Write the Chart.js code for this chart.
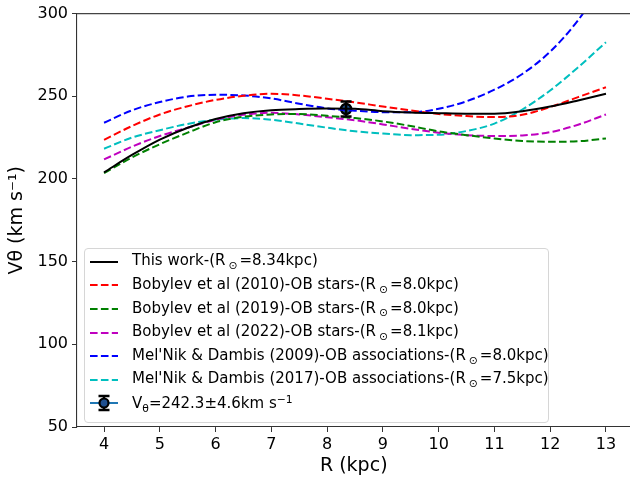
<!DOCTYPE html>
<html>
<head>
<meta charset="utf-8">
<script src="https://cdn.jsdelivr.net/npm/chart.js@4.4.0/dist/chart.umd.min.js"></script>
<style>
  body { margin: 0; background: #fff; }
  #wrap { position: relative; width: 630px; height: 477px; overflow: hidden; }
  #legend {
    position: absolute; left: 84px; top: 248px; width: 465px; height: 175px;
    box-sizing: border-box; border: 1px solid #d6d6d6; border-radius: 4px;
    background: rgba(255,255,255,0.85);
    font-family: "DejaVu Sans", sans-serif; font-size: 15px; color: #000;
    padding-top: 1px;
  }
  #legend .row { display: flex; align-items: center; height: 23.6px; white-space: nowrap; }
  #legend svg { margin-left: 5px; margin-right: 14px; flex: none; }
  #legend sub { font-size: 0.72em; vertical-align: -0.35em; margin: 0 2px 0 3px; }
  #legend sub.tight { margin: 0; }
  #legend sup { font-size: 0.72em; vertical-align: 0.45em; }
</style>
</head>
<body>
<div id="wrap">
  <canvas id="chart" width="638" height="477"></canvas>
  <div id="legend"></div>
</div>
<script>
// radius grid (kpc)
const rGrid = [4, 4.5, 5, 5.5, 6, 6.5, 7, 7.5, 8, 8.5, 9, 9.5, 10, 10.5, 11, 11.5, 12, 12.5, 13];

// rotation curves (km/s)
const thisWork   = [204, 214.5, 223.8, 231, 236.3, 239.8, 241.6, 242.3, 242.6, 242.4, 241, 240.2, 239.8, 239.5, 239.5, 241, 243.8, 247.5, 251.5];
const bob2010    = [223.7, 232, 239, 244, 247.8, 250.3, 251.5, 250.5, 248.5, 246.3, 243.8, 241.5, 239.3, 238, 237.4, 238.8, 243.5, 249.5, 255.5];
const bob2019    = [203.5, 213, 221, 228, 234.3, 237.6, 239, 239.3, 238.2, 236.8, 234.8, 232, 228.8, 226.5, 224.5, 223, 222.5, 222.8, 224.5];
const bob2022    = [211.8, 219.5, 226, 231, 235.8, 238.8, 240, 239, 237.3, 235.5, 233, 230.3, 228, 226.5, 226, 226.3, 228.3, 232.8, 239];
const mel2009    = [234, 241.5, 246.5, 249.8, 250.9, 250.5, 248.7, 245.5, 242.7, 241.3, 240.4, 240.3, 242.4, 247, 254, 263.5, 277, 296, 321];
const mel2017    = [218.3, 225, 229.5, 233.3, 235.8, 236.8, 235.8, 233.5, 231, 228.8, 227.5, 226.5, 226.7, 229, 233.5, 242, 253.5, 267.5, 282.7];

// measured point at the Sun
const sunR = 8.34;
const sunV = 242.3;
const sunErr = 4.6;

const xTicks = [4, 5, 6, 7, 8, 9, 10, 11, 12, 13];
const yTicks = [50, 100, 150, 200, 250, 300];

const DASH = [7.6, 3.3];
const curves = [
    { label: 'This work-(R<sub>⊙</sub>=8.34kpc)', data: thisWork, color: '#000000', dash: [] },
    { label: 'Bobylev et al (2010)-OB stars-(R<sub>⊙</sub>=8.0kpc)', data: bob2010, color: '#ff0000', dash: DASH },
    { label: 'Bobylev et al (2019)-OB stars-(R<sub>⊙</sub>=8.0kpc)', data: bob2019, color: '#008000', dash: DASH },
    { label: 'Bobylev et al (2022)-OB stars-(R<sub>⊙</sub>=8.1kpc)', data: bob2022, color: '#bf00bf', dash: DASH },
    { label: "Mel'Nik &amp; Dambis (2009)-OB associations-(R<sub>⊙</sub>=8.0kpc)", data: mel2009, color: '#0000ff', dash: DASH },
    { label: "Mel'Nik &amp; Dambis (2017)-OB associations-(R<sub>⊙</sub>=7.5kpc)", data: mel2017, color: '#00bfbf', dash: DASH }
];

const TICK_FONT = { family: 'DejaVu Sans', size: 16 };
const TITLE_FONT = { family: 'DejaVu Sans', size: 19 };

const datasets = curves.map(c => ({
    type: 'line',
    label: c.label,
    data: rGrid.map((r, i) => ({ x: r, y: c.data[i] })),
    borderColor: c.color,
    borderWidth: 2,
    borderDash: c.dash,
    pointRadius: 0,
    cubicInterpolationMode: 'monotone',
    fill: false
}));

datasets.push({
    type: 'scatter',
    label: 'sun',
    data: [{ x: sunR, y: sunV }],
    pointRadius: 5,
    pointBorderWidth: 2.5,
    pointBackgroundColor: '#1f4f8f',
    pointBorderColor: '#000000'
});

// error bar + top spine
const extras = {
    id: 'extras',
    afterDatasetsDraw(chart) {
        const ctx = chart.ctx;
        const xs = chart.scales.x, ys = chart.scales.y;
        const px = xs.getPixelForValue(sunR);
        const yTop = ys.getPixelForValue(sunV + sunErr);
        const yBot = ys.getPixelForValue(sunV - sunErr);
        ctx.save();
        ctx.strokeStyle = '#000';
        ctx.lineWidth = 2.5;
        ctx.beginPath();
        ctx.moveTo(px, yTop); ctx.lineTo(px, yBot);
        ctx.moveTo(px - 5.5, yTop); ctx.lineTo(px + 5.5, yTop);
        ctx.moveTo(px - 5.5, yBot); ctx.lineTo(px + 5.5, yBot);
        ctx.stroke();
        const a = chart.chartArea;
        ctx.lineWidth = 1.1;
        ctx.strokeStyle = '#444';
        ctx.beginPath();
        ctx.moveTo(a.left, a.top); ctx.lineTo(a.right + 10, a.top);
        ctx.stroke();
        ctx.restore();
    }
};

const chart = new Chart(document.getElementById('chart'), {
    data: { datasets },
    options: {
        responsive: false,
        animation: false,
        layout: { padding: { top: 13, right: 0, left: 0, bottom: 0 } },
        plugins: { legend: { display: false }, tooltip: { enabled: false } },
        scales: {
            x: {
                type: 'linear',
                min: 3.515,
                max: 13.44,
                afterBuildTicks: s => { s.ticks = xTicks.map(v => ({ value: v })); },
                afterFit: s => { s.height = 50; s.paddingLeft = 0; s.paddingRight = 0; },
                grid: { drawOnChartArea: false, tickLength: 5, color: '#333' },
                border: { display: true, color: '#333', width: 1.1 },
                ticks: { color: '#000', font: TICK_FONT, padding: 3, maxRotation: 0 },
                title: { display: true, text: 'R (kpc)', color: '#000', font: TITLE_FONT, padding: { top: 0, bottom: 0 } }
            },
            y: {
                type: 'linear',
                min: 50,
                max: 300,
                afterBuildTicks: s => { s.ticks = yTicks.map(v => ({ value: v })); },
                afterFit: s => { s.width = 77; },
                grid: { drawOnChartArea: false, tickLength: 5, color: '#333' },
                border: { display: true, color: '#333', width: 1.1 },
                ticks: { color: '#000', font: TICK_FONT, padding: 4 },
                title: { display: true, text: 'V\u03B8 (km s\u207B\u00B9)', color: '#000', font: TITLE_FONT, padding: { top: 6, bottom: 4 } }
            }
        }
    },
    plugins: [extras]
});

// legend built from the curve list
const legend = document.getElementById('legend');
curves.forEach(c => {
    const row = document.createElement('div');
    row.className = 'row';
    const dash = c.dash.length ? `stroke-dasharray="${c.dash.join(' ')}"` : '';
    row.innerHTML = `<svg width="28" height="12"><line x1="0" y1="6" x2="28" y2="6" stroke="${c.color}" stroke-width="2" ${dash}/></svg><span>${c.label}</span>`;
    legend.appendChild(row);
});
const sunRow = document.createElement('div');
sunRow.className = 'row';
sunRow.innerHTML = `<svg width="28" height="22"><line x1="0" y1="11" x2="28" y2="11" stroke="#1f77b4" stroke-width="2"/>` +
    `<line x1="14" y1="4" x2="14" y2="18" stroke="#000" stroke-width="2.5"/>` +
    `<line x1="8.5" y1="4" x2="19.5" y2="4" stroke="#000" stroke-width="2.5"/>` +
    `<line x1="8.5" y1="18" x2="19.5" y2="18" stroke="#000" stroke-width="2.5"/>` +
    `<circle cx="14" cy="11" r="4.5" fill="#1f4f8f" stroke="#000" stroke-width="2.2"/></svg>` +
    `<span>V<sub class="tight">θ</sub>=${sunV}±${sunErr}km s<sup>−1</sup></span>`;
legend.appendChild(sunRow);
</script>
</body>
</html>
